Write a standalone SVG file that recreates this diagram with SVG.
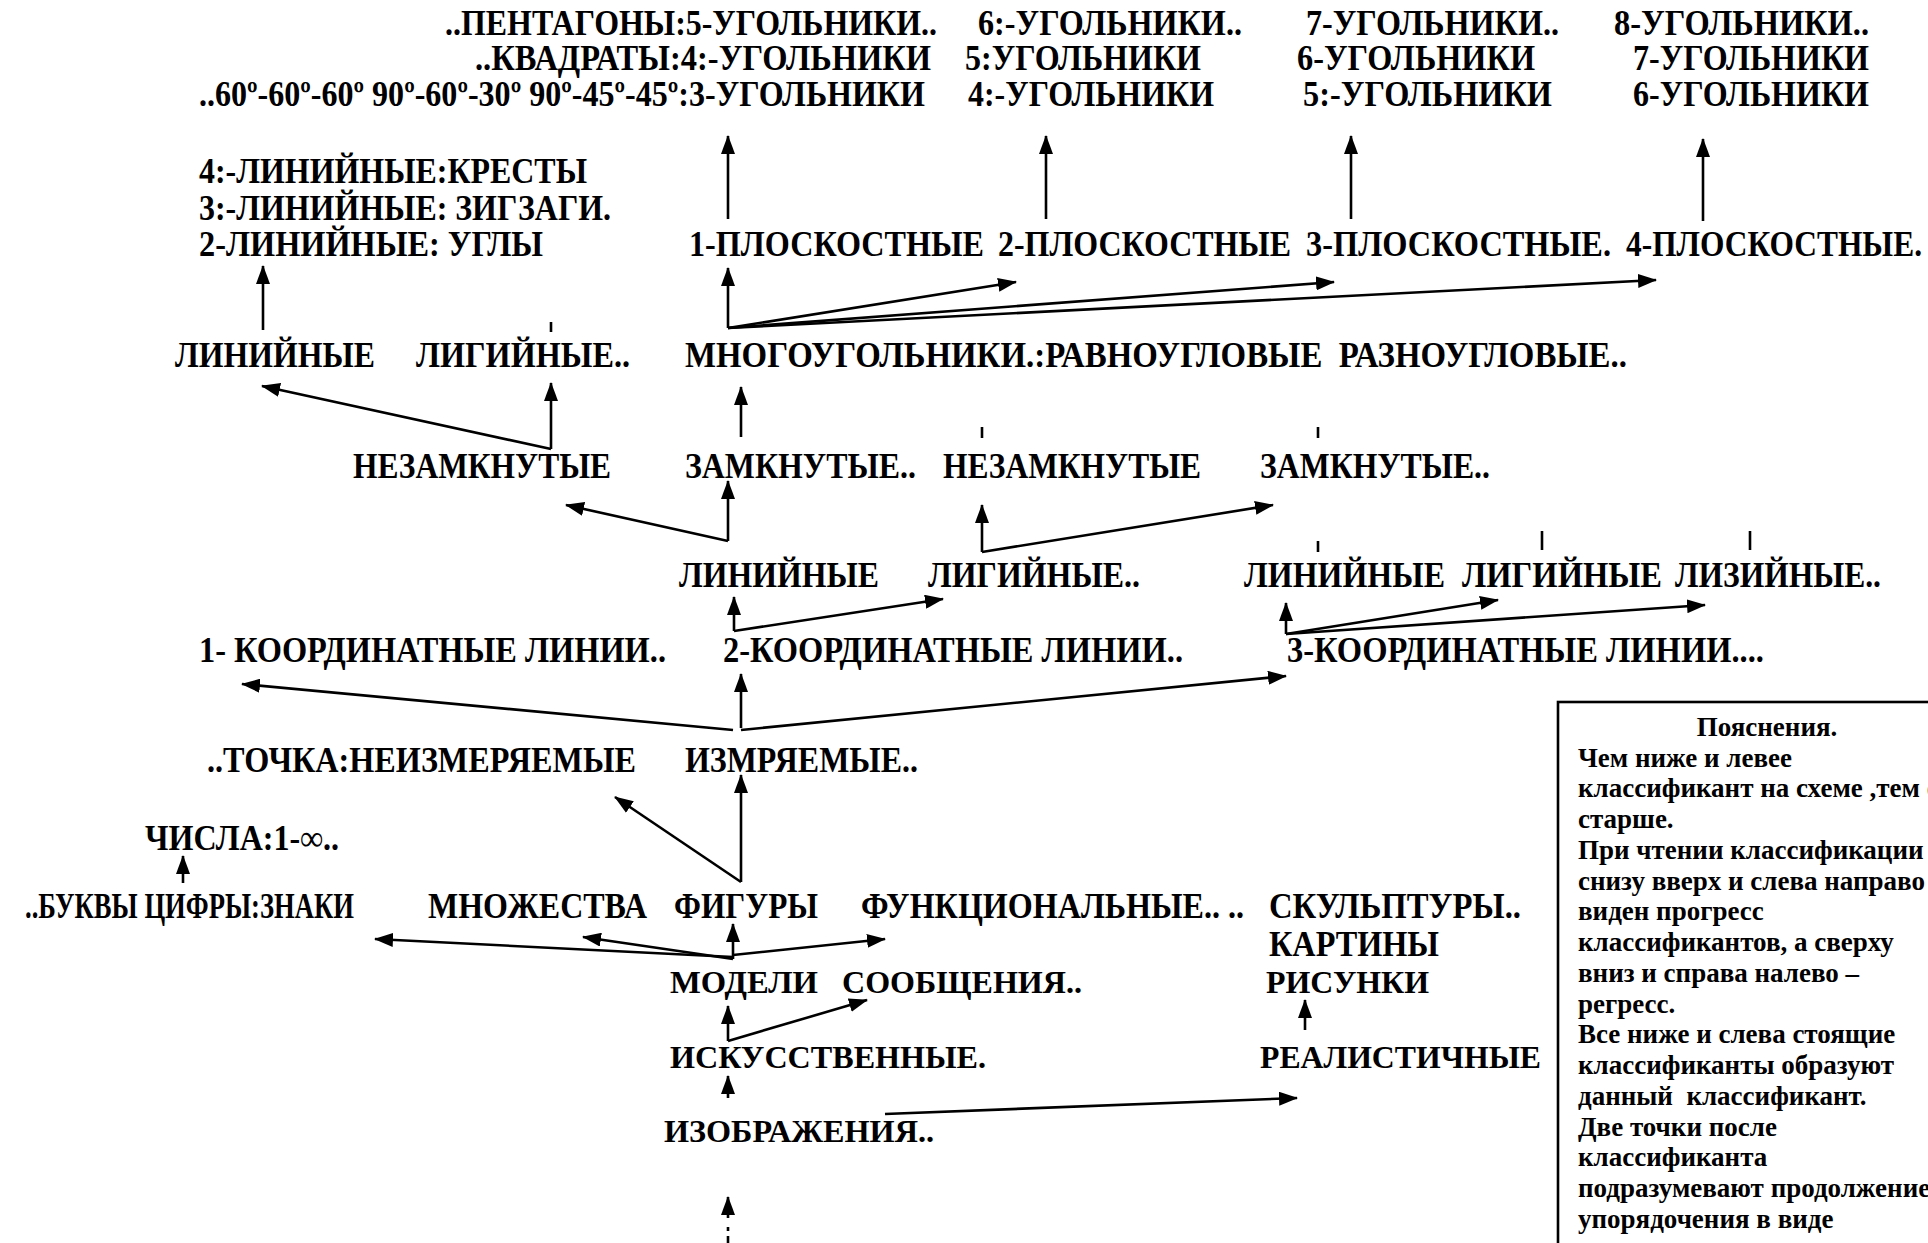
<svg xmlns="http://www.w3.org/2000/svg" width="1928" height="1243" viewBox="0 0 1928 1243">
<style>
text{font-family:"Liberation Serif","Times New Roman",serif;font-weight:bold;fill:#000}
.c{font-size:36px}
.n{font-size:32px}
.b{font-size:27px}
.p{white-space:pre}
.e{stroke:#000;stroke-width:2.6;fill:none}
.a{marker-end:url(#ah)}
</style>
<defs>
<marker id="ah" viewBox="0 0 19 14" refX="18" refY="7" markerWidth="19" markerHeight="14" orient="auto" markerUnits="userSpaceOnUse"><path d="M0,0 L19,7 L0,14 z" fill="#000"/></marker>
</defs>
<rect width="1928" height="1243" fill="#fff"/>
<g id="n-row-a">
<text class="c" x="445" y="35" textLength="492" lengthAdjust="spacingAndGlyphs">..ПЕНТАГОНЫ:5-УГОЛЬНИКИ..</text>
<text class="c" x="978" y="35" textLength="264" lengthAdjust="spacingAndGlyphs">6:-УГОЛЬНИКИ..</text>
<text class="c" x="1306" y="35" textLength="253" lengthAdjust="spacingAndGlyphs">7-УГОЛЬНИКИ..</text>
<text class="c" x="1614" y="35" textLength="255" lengthAdjust="spacingAndGlyphs">8-УГОЛЬНИКИ..</text>
</g>
<g id="n-row-b">
<text class="c" x="475" y="70" textLength="456" lengthAdjust="spacingAndGlyphs">..КВАДРАТЫ:4:-УГОЛЬНИКИ</text>
<text class="c" x="965" y="70" textLength="236" lengthAdjust="spacingAndGlyphs">5:УГОЛЬНИКИ</text>
<text class="c" x="1297" y="70" textLength="238" lengthAdjust="spacingAndGlyphs">6-УГОЛЬНИКИ</text>
<text class="c" x="1633" y="70" textLength="236" lengthAdjust="spacingAndGlyphs">7-УГОЛЬНИКИ</text>
</g>
<g id="n-row-c">
<text class="c" x="199" y="106" textLength="726" lengthAdjust="spacingAndGlyphs">..60º-60º-60º 90º-60º-30º 90º-45º-45º:3-УГОЛЬНИКИ</text>
<text class="c" x="968" y="106" textLength="246" lengthAdjust="spacingAndGlyphs">4:-УГОЛЬНИКИ</text>
<text class="c" x="1303" y="106" textLength="249" lengthAdjust="spacingAndGlyphs">5:-УГОЛЬНИКИ</text>
<text class="c" x="1633" y="106" textLength="236" lengthAdjust="spacingAndGlyphs">6-УГОЛЬНИКИ</text>
</g>
<g id="n-lin-kresty"><text class="c" x="199" y="183" textLength="388" lengthAdjust="spacingAndGlyphs">4:-ЛИНИЙНЫЕ:КРЕСТЫ</text></g>
<g id="n-lin-zigzagi"><text class="c" x="199" y="220" textLength="412" lengthAdjust="spacingAndGlyphs">3:-ЛИНИЙНЫЕ: ЗИГЗАГИ.</text></g>
<g id="n-lin-ugly"><text class="c" x="199" y="256" textLength="344" lengthAdjust="spacingAndGlyphs">2-ЛИНИЙНЫЕ: УГЛЫ</text></g>
<g id="n-plosk-1"><text class="c" x="689" y="256" textLength="295" lengthAdjust="spacingAndGlyphs">1-ПЛОСКОСТНЫЕ</text></g>
<g id="n-plosk-2"><text class="c" x="998" y="256" textLength="293" lengthAdjust="spacingAndGlyphs">2-ПЛОСКОСТНЫЕ</text></g>
<g id="n-plosk-3"><text class="c" x="1306" y="256" textLength="305" lengthAdjust="spacingAndGlyphs">3-ПЛОСКОСТНЫЕ.</text></g>
<g id="n-plosk-4"><text class="c" x="1626" y="256" textLength="296" lengthAdjust="spacingAndGlyphs">4-ПЛОСКОСТНЫЕ.</text></g>
<g id="n-g-lin"><text class="c" x="175" y="367" textLength="200" lengthAdjust="spacingAndGlyphs">ЛИНИЙНЫЕ</text></g>
<g id="n-g-lig"><text class="c" x="416" y="367" textLength="214" lengthAdjust="spacingAndGlyphs">ЛИГИЙНЫЕ..</text></g>
<g id="n-mnogo"><text class="c p" x="685" y="367" textLength="942" lengthAdjust="spacingAndGlyphs">МНОГОУГОЛЬНИКИ.:РАВНОУГЛОВЫЕ  РАЗНОУГЛОВЫЕ..</text></g>
<g id="n-h-nezam1"><text class="c" x="353" y="478" textLength="258" lengthAdjust="spacingAndGlyphs">НЕЗАМКНУТЫЕ</text></g>
<g id="n-h-zam1"><text class="c" x="685" y="478" textLength="231" lengthAdjust="spacingAndGlyphs">ЗАМКНУТЫЕ..</text></g>
<g id="n-h-nezam2"><text class="c" x="943" y="478" textLength="258" lengthAdjust="spacingAndGlyphs">НЕЗАМКНУТЫЕ</text></g>
<g id="n-h-zam2"><text class="c" x="1260" y="478" textLength="230" lengthAdjust="spacingAndGlyphs">ЗАМКНУТЫЕ..</text></g>
<g id="n-i-lin1"><text class="c" x="679" y="587" textLength="200" lengthAdjust="spacingAndGlyphs">ЛИНИЙНЫЕ</text></g>
<g id="n-i-lig1"><text class="c" x="928" y="587" textLength="212" lengthAdjust="spacingAndGlyphs">ЛИГИЙНЫЕ..</text></g>
<g id="n-i-lin2"><text class="c" x="1244" y="587" textLength="201" lengthAdjust="spacingAndGlyphs">ЛИНИЙНЫЕ</text></g>
<g id="n-i-lig2"><text class="c" x="1462" y="587" textLength="200" lengthAdjust="spacingAndGlyphs">ЛИГИЙНЫЕ</text></g>
<g id="n-i-liz"><text class="c" x="1675" y="587" textLength="206" lengthAdjust="spacingAndGlyphs">ЛИЗИЙНЫЕ..</text></g>
<g id="n-koord-1"><text class="c" x="199" y="662" textLength="467" lengthAdjust="spacingAndGlyphs">1- КООРДИНАТНЫЕ ЛИНИИ..</text></g>
<g id="n-koord-2"><text class="c" x="723" y="662" textLength="460" lengthAdjust="spacingAndGlyphs">2-КООРДИНАТНЫЕ ЛИНИИ..</text></g>
<g id="n-koord-3"><text class="c" x="1287" y="662" textLength="477" lengthAdjust="spacingAndGlyphs">3-КООРДИНАТНЫЕ ЛИНИИ....</text></g>
<g id="n-tochka"><text class="c" x="207" y="772" textLength="429" lengthAdjust="spacingAndGlyphs">..ТОЧКА:НЕИЗМЕРЯЕМЫЕ</text></g>
<g id="n-izmer"><text class="c" x="685" y="772" textLength="233" lengthAdjust="spacingAndGlyphs">ИЗМРЯЕМЫЕ..</text></g>
<g id="n-chisla"><text class="c" x="145" y="850" textLength="194" lengthAdjust="spacingAndGlyphs">ЧИСЛА:1-∞..</text></g>
<g id="n-znaki"><text class="c" x="25" y="918" textLength="329" lengthAdjust="spacingAndGlyphs">..БУКВЫ ЦИФРЫ:ЗНАКИ</text></g>
<g id="n-mnozh"><text class="c" x="428" y="918" textLength="219" lengthAdjust="spacingAndGlyphs">МНОЖЕСТВА</text></g>
<g id="n-figury"><text class="c" x="674" y="918" textLength="144" lengthAdjust="spacingAndGlyphs">ФИГУРЫ</text></g>
<g id="n-funk"><text class="c" x="861" y="918" textLength="383" lengthAdjust="spacingAndGlyphs">ФУНКЦИОНАЛЬНЫЕ.. ..</text></g>
<g id="n-skulpt"><text class="c" x="1269" y="918" textLength="252" lengthAdjust="spacingAndGlyphs">СКУЛЬПТУРЫ..</text></g>
<g id="n-kartiny"><text class="c" x="1269" y="956" textLength="170" lengthAdjust="spacingAndGlyphs">КАРТИНЫ</text></g>
<g id="n-modeli"><text class="n" x="670" y="993" textLength="148" lengthAdjust="spacingAndGlyphs">МОДЕЛИ</text></g>
<g id="n-soobsh"><text class="n" x="842" y="993" textLength="240" lengthAdjust="spacingAndGlyphs">СООБЩЕНИЯ..</text></g>
<g id="n-risunki"><text class="n" x="1266" y="993" textLength="163" lengthAdjust="spacingAndGlyphs">РИСУНКИ</text></g>
<g id="n-iskus"><text class="n" x="670" y="1068" textLength="316" lengthAdjust="spacingAndGlyphs">ИСКУССТВЕННЫЕ.</text></g>
<g id="n-real"><text class="n" x="1260" y="1068" textLength="281" lengthAdjust="spacingAndGlyphs">РЕАЛИСТИЧНЫЕ</text></g>
<g id="n-izobr"><text class="n" x="664" y="1142" textLength="270" lengthAdjust="spacingAndGlyphs">ИЗОБРАЖЕНИЯ..</text></g>
<g id="n-note">
<rect x="1558" y="702" width="420" height="600" fill="#fff" stroke="#000" stroke-width="2.6"/>
<text class="b" x="1767" y="736" text-anchor="middle">Пояснения.</text>
<text class="b" x="1578" y="767">Чем ниже и левее</text>
<text class="b" x="1578" y="797">классификант на схеме ,тем оно</text>
<text class="b" x="1578" y="828">старше.</text>
<text class="b" x="1578" y="859">При чтении классификации</text>
<text class="b" x="1578" y="890">снизу вверх и слева направо</text>
<text class="b" x="1578" y="920">виден прогресс</text>
<text class="b" x="1578" y="951">классификантов, а сверху</text>
<text class="b" x="1578" y="982">вниз и справа налево –</text>
<text class="b" x="1578" y="1013">регресс.</text>
<text class="b" x="1578" y="1043">Все ниже и слева стоящие</text>
<text class="b" x="1578" y="1074">классификанты образуют</text>
<text class="b p" x="1578" y="1105">данный  классификант.</text>
<text class="b" x="1578" y="1136">Две точки после</text>
<text class="b" x="1578" y="1166">классификанта</text>
<text class="b" x="1578" y="1197">подразумевают продолжение</text>
<text class="b" x="1578" y="1228">упорядочения в виде</text>
</g>
<g id="connectors">
<line class="e a" x1="728" y1="219" x2="728" y2="136"/>
<line class="e a" x1="1046" y1="219" x2="1046" y2="136"/>
<line class="e a" x1="1351" y1="219" x2="1351" y2="136"/>
<line class="e a" x1="1703" y1="221" x2="1703" y2="139"/>
<line class="e a" x1="263" y1="330" x2="263" y2="266"/>
<line class="e" x1="551" y1="322" x2="551" y2="332"/>
<line class="e a" x1="728" y1="328" x2="728" y2="268"/>
<line class="e a" x1="728" y1="328" x2="1016" y2="282"/>
<line class="e a" x1="728" y1="328" x2="1334" y2="282"/>
<line class="e a" x1="728" y1="328" x2="1656" y2="280"/>
<line class="e a" x1="551" y1="449" x2="551" y2="383"/>
<line class="e a" x1="551" y1="449" x2="262" y2="386"/>
<line class="e a" x1="741" y1="437" x2="741" y2="387"/>
<line class="e" x1="982" y1="427" x2="982" y2="438"/>
<line class="e" x1="1318" y1="427" x2="1318" y2="438"/>
<line class="e a" x1="728" y1="541" x2="728" y2="481"/>
<line class="e a" x1="728" y1="541" x2="566" y2="505"/>
<line class="e a" x1="982" y1="552" x2="982" y2="505"/>
<line class="e a" x1="982" y1="552" x2="1273" y2="505"/>
<line class="e" x1="1318" y1="541" x2="1318" y2="552"/>
<line class="e" x1="1542" y1="531" x2="1542" y2="550"/>
<line class="e" x1="1750" y1="531" x2="1750" y2="550"/>
<line class="e a" x1="734" y1="631" x2="734" y2="597"/>
<line class="e a" x1="734" y1="631" x2="943" y2="599"/>
<line class="e a" x1="1286" y1="634" x2="1286" y2="603"/>
<line class="e a" x1="1286" y1="634" x2="1498" y2="600"/>
<line class="e a" x1="1286" y1="634" x2="1705" y2="605"/>
<line class="e a" x1="741" y1="728" x2="741" y2="674"/>
<line class="e a" x1="733" y1="730" x2="242" y2="684"/>
<line class="e a" x1="741" y1="730" x2="1286" y2="676"/>
<line class="e a" x1="183" y1="883" x2="183" y2="856"/>
<line class="e a" x1="741" y1="882" x2="741" y2="775"/>
<line class="e a" x1="741" y1="882" x2="615" y2="797"/>
<line class="e a" x1="733" y1="959" x2="733" y2="924"/>
<line class="e a" x1="733" y1="957" x2="375" y2="939"/>
<line class="e a" x1="733" y1="959" x2="583" y2="937"/>
<line class="e a" x1="733" y1="955" x2="885" y2="939"/>
<line class="e a" x1="728" y1="1041" x2="728" y2="1006"/>
<line class="e a" x1="728" y1="1041" x2="867" y2="1000"/>
<line class="e a" x1="1305" y1="1030" x2="1305" y2="1000"/>
<line class="e a" x1="728" y1="1098" x2="728" y2="1076"/>
<line class="e a" x1="885" y1="1114" x2="1297" y2="1098"/>
<line class="e a" x1="728" y1="1218" x2="728" y2="1197"/>
<line class="e" x1="728" y1="1227" x2="728" y2="1231"/>
<line class="e" x1="728" y1="1236" x2="728" y2="1243"/>
</g>
</svg>
